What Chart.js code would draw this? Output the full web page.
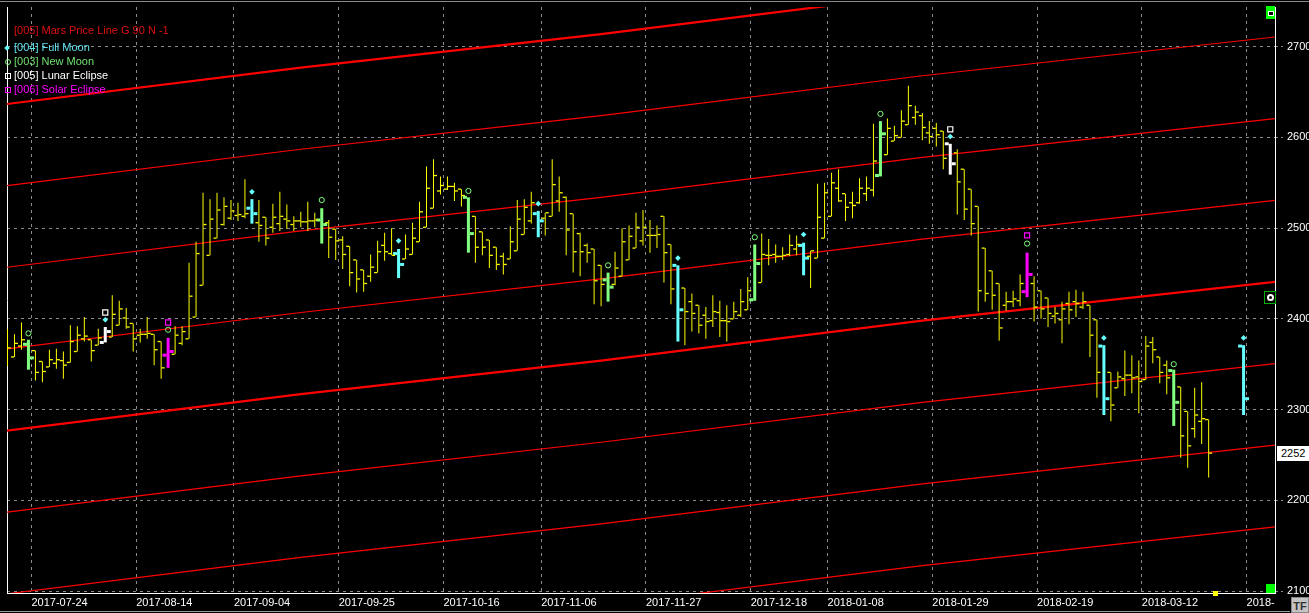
<!DOCTYPE html>
<html>
<head>
<meta charset="utf-8">
<title>Mars Price Line G 90 N -1</title>
<script src="https://cdn.jsdelivr.net/npm/chart.js@4.4.1/dist/chart.umd.min.js"></script>
<style>
  html, body { margin: 0; padding: 0; background: #000; }
  #wrap { position: relative; width: 1309px; height: 613px; overflow: hidden; background: #000;
          font-family: "Liberation Sans", Arial, sans-serif; font-size: 11px; }
  #myChart { position: absolute; left: 0; top: 0; }
  .leg { position: absolute; left: 14px; height: 13px; line-height: 13px; white-space: nowrap; }
  .mk { position: absolute; box-sizing: border-box; }
</style>
</head>
<body>
<div id="wrap">
  <canvas id="myChart" width="1309" height="613"></canvas>

  <!-- LEGEND -->
  <div class="leg" style="top:24px;color:#e01010">[005] Mars Price Line G 90 N -1</div>
  <div class="mk" style="left:5px;top:46px;width:4px;height:4px;background:#66ffff;transform:rotate(45deg)"></div>
  <div class="leg" style="top:41px;color:#5fe3ef">[004] Full Moon</div>
  <div class="mk" style="left:5px;top:59px;width:6px;height:6px;border:1px solid #80ff80;border-radius:50%"></div>
  <div class="leg" style="top:55px;color:#70e070">[003] New Moon</div>
  <div class="mk" style="left:5px;top:73px;width:6px;height:6px;border:1px solid #ffffff"></div>
  <div class="leg" style="top:69px;color:#ffffff">[005] Lunar Eclipse</div>
  <div class="mk" style="left:5px;top:87px;width:6px;height:6px;border:1px solid #ff00ff"></div>
  <div class="leg" style="top:83px;color:#ff00ff">[006] Solar Eclipse</div>

  <!-- PLATFORM BITS ROUND THE PLOT -->
  <div class="mk" style="left:0;top:1px;width:1309px;height:1px;background:#8a8a8a"></div>
  <div class="mk" style="left:1266px;top:6px;width:9px;height:13px;background:#00ff00"></div>
  <div class="mk" style="left:1268px;top:11px;width:6px;height:5px;border:1px solid #fff;background:#000"></div>
  <div class="mk" style="left:1264px;top:291px;width:12px;height:13px;border:1px solid #00b000;background:#000"></div>
  <div class="mk" style="left:1267px;top:294px;width:7px;height:7px;border:2px solid #fff;border-radius:50%;background:#000"></div>
  <div class="mk" style="left:1266px;top:584px;width:9px;height:9px;background:#00ff00"></div>
  <div class="mk" style="left:1213px;top:591px;width:5px;height:5px;background:#ffff00"></div>
  <div class="mk" style="left:1277px;top:446px;width:32px;height:15px;background:#fff;color:#000;line-height:15px;padding-left:4px">2252</div>
  <div class="mk" style="left:1291px;top:597px;width:18px;height:16px;background:#c4c4c4;color:#333;font-weight:bold;line-height:16px;text-align:center;border:1px solid #888">TF</div>
  <div class="mk" style="left:0;top:611px;width:1290px;height:1px;background:#9a9a9a"></div>
</div>

<script>
//DAILY BARS (ONE PER TRADING DAY, null = NO BAR YET)
const opens = [
  2348, 2358, 2370, 2372, 2365, 2353, 2347, 2351, 2354, 2352,
  2364, 2378, 2377, 2371, 2374, 2380, 2393, 2401, 2395, 2382,
  2383, 2383, 2375, 2360, 2361, 2373, 2378, 2402, 2437, 2470,
  2489, 2504, 2511, 2514, 2513, 2522, 2506, 2512, 2501, 2505,
  2510, 2504, 2508, 2507, 2508, 2509, 2506, 2499, 2487, 2480,
  2465, 2454, 2447, 2451, 2481, 2472, 2472, 2466, 2471, 2485,
  2501, 2522, 2541, 2543, 2546, 2543, 2534, 2513, 2496, 2487,
  2479, 2469, 2466, 2475, 2493, 2508, 2516, 2511, 2513, 2530,
  2534, 2516, 2494, 2481, 2477, 2459, 2443, 2438, 2447, 2465,
  2478, 2486, 2492, 2492, 2513, 2482, 2459, 2434, 2419, 2415,
  2404, 2398, 2407, 2398, 2400, 2404, 2410, 2421, 2440, 2470,
  2471, 2469, 2471, 2477, 2481, 2469, 2467, 2489, 2513, 2544,
  2538, 2528, 2528, 2538, 2542, 2558, 2581, 2596, 2600, 2614,
  2622, 2624, 2605, 2610, 2607, 2593, 2583, 2565, 2543, 2524,
  2478, 2453, 2439, 2415, 2419, 2420, 2430, 2439, 2431, 2423,
  2403, 2399, 2417, 2419, 2413, 2415, 2399, 2370, 2341, 2324,
  2334, 2338, 2336, 2333, 2374, 2358, 2349, 2343, 2325, 2298,
  2279, 2287, 2289, null, null, null, null, 2370
];
const highs = [
  2389, 2383, 2396, 2377, 2365, 2353, 2366, 2367, 2364, 2393,
  2392, 2402, 2377, 2389, 2391, 2426, 2420, 2412, 2395, 2389,
  2402, 2383, 2375, 2379, 2392, 2392, 2462, 2485, 2539, 2532,
  2539, 2534, 2531, 2528, 2554, 2532, 2531, 2512, 2527, 2540,
  2526, 2513, 2518, 2529, 2517, 2522, 2509, 2499, 2491, 2480,
  2465, 2454, 2471, 2486, 2495, 2500, 2477, 2493, 2506, 2529,
  2568, 2576, 2557, 2557, 2550, 2543, 2534, 2513, 2496, 2487,
  2479, 2473, 2502, 2531, 2532, 2540, 2519, 2517, 2576, 2557,
  2535, 2516, 2495, 2483, 2477, 2459, 2451, 2474, 2500, 2503,
  2517, 2520, 2509, 2503, 2513, 2482, 2459, 2434, 2428, 2415,
  2413, 2426, 2420, 2415, 2419, 2433, 2446, 2482, 2494, 2488,
  2482, 2479, 2493, 2492, 2484, 2475, 2549, 2550, 2561, 2565,
  2538, 2540, 2555, 2557, 2615, 2618, 2621, 2613, 2630, 2657,
  2635, 2627, 2618, 2616, 2607, 2593, 2587, 2565, 2543, 2524,
  2478, 2453, 2439, 2430, 2431, 2449, 2473, 2447, 2431, 2423,
  2413, 2419, 2430, 2432, 2430, 2415, 2399, 2371, 2341, 2342,
  2365, 2360, 2354, 2381, 2380, 2358, 2354, 2344, 2325, 2298,
  2324, 2330, 2289, null, null, null, null, 2371
];
const lows = [
  2348, 2358, 2366, 2344, 2332, 2330, 2347, 2345, 2334, 2352,
  2364, 2375, 2353, 2371, 2374, 2380, 2393, 2389, 2364, 2374,
  2378, 2349, 2334, 2346, 2361, 2371, 2378, 2402, 2437, 2470,
  2489, 2503, 2509, 2508, 2511, 2505, 2485, 2481, 2495, 2497,
  2499, 2497, 2501, 2497, 2501, 2483, 2467, 2465, 2455, 2436,
  2429, 2430, 2441, 2451, 2464, 2470, 2445, 2466, 2471, 2485,
  2501, 2522, 2537, 2542, 2530, 2524, 2473, 2462, 2470, 2456,
  2454, 2449, 2466, 2475, 2493, 2505, 2490, 2492, 2513, 2518,
  2470, 2451, 2447, 2462, 2416, 2414, 2419, 2437, 2447, 2465,
  2478, 2481, 2473, 2478, 2440, 2416, 2375, 2371, 2386, 2384,
  2378, 2391, 2380, 2375, 2400, 2402, 2410, 2420, 2440, 2459,
  2462, 2465, 2469, 2470, 2448, 2434, 2467, 2489, 2513, 2529,
  2508, 2511, 2527, 2530, 2535, 2557, 2581, 2596, 2600, 2614,
  2614, 2597, 2593, 2590, 2565, 2559, 2515, 2509, 2492, 2408,
  2419, 2410, 2376, 2409, 2413, 2414, 2424, 2397, 2400, 2391,
  2395, 2373, 2394, 2402, 2411, 2358, 2313, 2294, 2287, 2324,
  2315, 2318, 2296, 2333, 2351, 2329, 2317, 2282, 2247, 2236,
  2269, 2262, 2225, null, null, null, null, 2294
];
const closes = [
  2368, 2373, 2377, 2357, 2341, 2342, 2355, 2355, 2349, 2375,
  2382, 2381, 2365, 2379, 2386, 2405, 2411, 2391, 2378, 2383,
  2384, 2366, 2346, 2364, 2382, 2386, 2425, 2472, 2504, 2510,
  2520, 2524, 2519, 2515, 2516, 2516, 2503, 2489, 2512, 2513,
  2508, 2508, 2507, 2508, 2509, 2504, 2490, 2486, 2471, 2451,
  2444, 2439, 2457, 2474, 2474, 2470, 2460, 2477, 2489, 2518,
  2544, 2558, 2547, 2546, 2541, 2536, 2494, 2479, 2479, 2470,
  2460, 2460, 2485, 2510, 2523, 2528, 2508, 2517, 2548, 2539,
  2498, 2474, 2474, 2473, 2442, 2438, 2435, 2456, 2485, 2491,
  2501, 2501, 2492, 2493, 2473, 2433, 2410, 2408, 2406, 2393,
  2397, 2408, 2398, 2397, 2408, 2419, 2431, 2461, 2471, 2470,
  2469, 2470, 2481, 2482, 2467, 2475, 2512, 2539, 2550, 2530,
  2523, 2525, 2544, 2544, 2574, 2604, 2610, 2602, 2618, 2635,
  2628, 2611, 2601, 2603, 2577, 2571, 2551, 2521, 2505, 2431,
  2428, 2426, 2390, 2419, 2422, 2439, 2449, 2413, 2411, 2406,
  2406, 2411, 2410, 2417, 2419, 2382, 2341, 2312, 2305, 2336,
  2338, 2335, 2331, 2370, 2366, 2341, 2335, 2308, 2271, 2260,
  2294, 2290, 2252, null, null, null, null, 2312
];

//EVENTS (BAR INDEX + PRICE OF THE MARK ABOVE THE BAR)
const fullMoonBars = [14, 35, 56, 76, 96, 114, 135, 157, 177];
const fullMoonMarks = [2399, 2540, 2486, 2527, 2467, 2493, 2601, 2379, 2379];
const newMoonBars = [3, 23, 45, 66, 86, 107, 125, 146, 167];
const newMoonMarks = [2384, 2388, 2531, 2541, 2459, 2490, 2626, 2483, 2350];
const lunarEclipseBars = [14, 135];
const lunarEclipseMarks = [2407, 2609];
const solarEclipseBars = [23, 146];
const solarEclipseMarks = [2396, 2492];

//MARS PRICE LINE (BASE LINE READ AT A FEW BARS, OTHER LINES 90 APART)
const marsBars = [-1, 42, 85, 131, 183];
const marsBase = [2276, 2317, 2354, 2398, 2442];
const marsSteps = [-3, -2, -1, 0, 1, 2, 3, 4];
const marsThick = [0, 4];
const marsGap = 90;

//AXES
const dateBars = [4, 19, 33, 48, 63, 77, 92, 107, 118, 133, 148, 163, 178];
const dateLabels = ["2017-07-24", "2017-08-14", "2017-09-04", "2017-09-25", "2017-10-16", "2017-11-06",
  "2017-11-27", "2017-12-18", "2018-01-08", "2018-01-29", "2018-02-19", "2018-03-12", "2018-"];
const priceTicks = [2100, 2200, 2300, 2400, 2500, 2600, 2700];

//COLOURS
const YELLOW = "#ffff00";
const CYAN = "#66ffff";
const GREEN = "#80ff80";
const WHITE = "#ffffff";
const MAGENTA = "#ff00ff";
const RED = "#ff0000";
const GRID = "#8c8c8c";
const FONT = { family: "'Liberation Sans', Arial, sans-serif", size: 11 };

function barColour(i) {
  if (lunarEclipseBars.includes(i)) return WHITE;
  if (solarEclipseBars.includes(i)) return MAGENTA;
  if (fullMoonBars.includes(i)) return CYAN;
  if (newMoonBars.includes(i)) return GREEN;
  return YELLOW;
}

//SPLIT BARS INTO PLAIN (THIN YELLOW) AND EVENT (THICK, COLOURED)
const plain = { hl: [], o: [], c: [] };
const ev = { hl: [], o: [], c: [], col: [] };
const px = 1 / 7; // one pixel in bar units
for (let i = 0; i < opens.length; i++) {
  if (opens[i] === null) continue;
  const col = barColour(i);
  if (col === YELLOW) {
    plain.hl.push({ x: i, y: [lows[i], highs[i]] });
    plain.o.push({ x: i - 2 * px, y: opens[i] });
    plain.c.push({ x: i + 2 * px, y: closes[i] });
  } else {
    ev.hl.push({ x: i, y: [lows[i], highs[i]] });
    ev.o.push({ x: i - 3.5 * px, y: opens[i] });
    ev.c.push({ x: i + 3.5 * px, y: closes[i] });
    ev.col.push(col);
  }
}

const marks = (bars, prices) => bars.map((b, k) => ({ x: b, y: prices[k] }));

//MARS LINES
const marsSets = marsSteps.map((k) => ({
  type: "line",
  data: marsBars.map((b, j) => ({ x: b, y: marsBase[j] + k * marsGap })),
  borderColor: RED,
  borderWidth: marsThick.includes(k) ? 2.2 : 1.2,
  pointRadius: 0,
  tension: 0,
  order: 5,
}));

const data = {
  datasets: [
    ...marsSets,
    {
      type: "bar",
      data: plain.hl,
      backgroundColor: YELLOW,
      borderWidth: 0,
      grouped: false,
      maxBarThickness: 1,
      inflateAmount: 0,
      order: 4,
    },
    {
      type: "bar",
      data: ev.hl,
      backgroundColor: ev.col,
      borderWidth: 0,
      grouped: false,
      maxBarThickness: 3,
      inflateAmount: 0,
      order: 3,
    },
    { type: "scatter", data: plain.o, pointStyle: "line", pointRadius: 1.5, pointBorderWidth: 1.3, pointBorderColor: YELLOW, order: 2 },
    { type: "scatter", data: plain.c, pointStyle: "line", pointRadius: 1.5, pointBorderWidth: 1.3, pointBorderColor: YELLOW, order: 2 },
    { type: "scatter", data: ev.o, pointStyle: "line", pointRadius: 2, pointBorderWidth: 3, pointBorderColor: ev.col, order: 2 },
    { type: "scatter", data: ev.c, pointStyle: "line", pointRadius: 2, pointBorderWidth: 3, pointBorderColor: ev.col, order: 2 },
    {
      type: "scatter",
      data: marks(fullMoonBars, fullMoonMarks),
      pointStyle: "rectRot", pointRadius: 2.8, pointBorderWidth: 0,
      pointBackgroundColor: CYAN, order: 1,
    },
    {
      type: "scatter",
      data: marks(newMoonBars, newMoonMarks),
      pointStyle: "circle", pointRadius: 2.6, pointBorderWidth: 1,
      pointBorderColor: GREEN, pointBackgroundColor: "rgba(0,0,0,0)", order: 1,
    },
    {
      type: "scatter",
      data: marks(lunarEclipseBars, lunarEclipseMarks),
      pointStyle: "rect", pointRadius: 3.6, pointBorderWidth: 1.2,
      pointBorderColor: WHITE, pointBackgroundColor: "rgba(0,0,0,0)", order: 1,
    },
    {
      type: "scatter",
      data: marks(solarEclipseBars, solarEclipseMarks),
      pointStyle: "rect", pointRadius: 3.6, pointBorderWidth: 1.2,
      pointBorderColor: MAGENTA, pointBackgroundColor: "rgba(0,0,0,0)", order: 1,
    },
  ],
};
data.datasets.forEach((d) => { d.xAxisID = "x"; d.yAxisID = "y"; });

//CHART CONFIGURATION
const xMin = -0.5 * px;
const config = {
  type: "scatter",
  data,
  options: {
    responsive: false,
    animation: false,
    devicePixelRatio: 1,
    events: [],
    layout: { padding: { left: 4, top: 3, right: 0, bottom: 0 } },
    plugins: { legend: { display: false }, tooltip: { enabled: false } },
    scales: {
      x: {
        type: "linear",
        position: "bottom",
        offset: false,
        min: xMin,
        max: xMin + 1271 * px,
        afterBuildTicks: (s) => { s.ticks = dateBars.map((b) => ({ value: b - 4 * px })); },
        afterFit: (s) => { s.height = 20; s.paddingLeft = 0; s.paddingRight = 0; },
        ticks: {
          callback: (v, k) => dateLabels[k],
          color: "#ffffff",
          font: FONT,
          align: "start",
          autoSkip: false,
          maxRotation: 0,
          padding: 3,
        },
        grid: { color: GRID, lineWidth: 1, drawTicks: false, offset: false },
        border: { display: true, color: "#ffffff", width: 1, dash: [3, 4] },
      },
      y: {
        type: "linear",
        position: "right",
        min: 2097.8,
        max: 2743.8,
        afterBuildTicks: (s) => { s.ticks = priceTicks.map((v) => ({ value: v })); },
        afterFit: (s) => { s.width = 34; s.paddingTop = 0; s.paddingBottom = 0; },
        ticks: { color: "#ffffff", font: FONT, padding: 4, callback: (v) => String(v) },
        grid: { color: GRID, lineWidth: 1, tickLength: 8, tickColor: GRID, tickBorderDash: [2, 3] },
        border: { display: true, color: "#ffffff", width: 1, dash: [3, 4] },
      },
      yL: {
        type: "linear",
        position: "left",
        afterFit: (s) => { s.width = 0; s.paddingTop = 0; s.paddingBottom = 0; },
        ticks: { display: false },
        grid: { display: false },
        border: { display: true, color: "#ffffff", width: 1 },
      },
    },
  },
};

// RENDER CHART
const myChart = new Chart(document.getElementById("myChart"), config);
</script>
</body>
</html>
